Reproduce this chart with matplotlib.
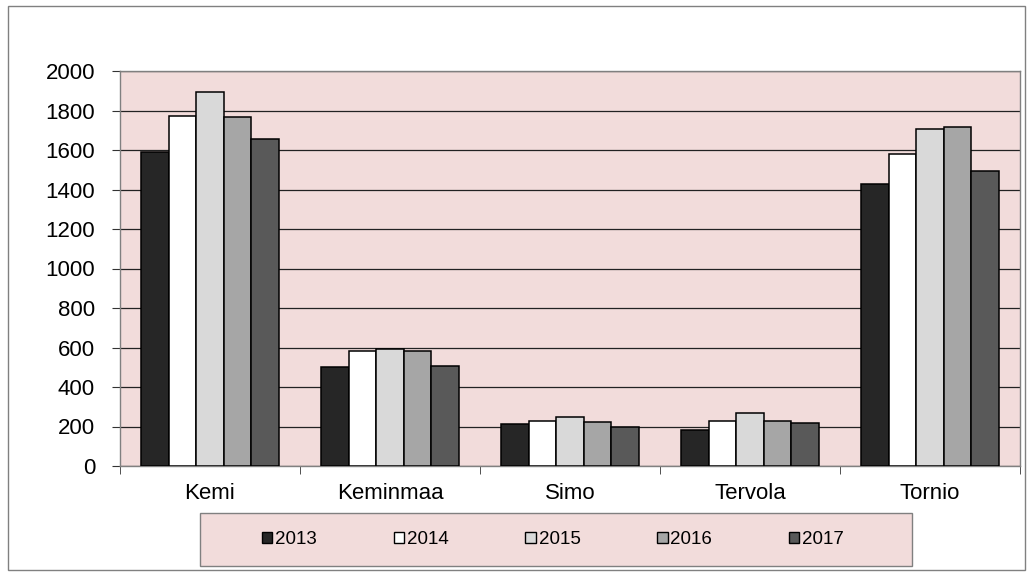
import numpy as np
import matplotlib
matplotlib.use('Agg')
import matplotlib.pyplot as plt
from matplotlib.patches import Rectangle, Patch

plt.rcParams['font.family'] = ['Liberation Sans', 'DejaVu Sans']

# data
municipalities = ['Kemi', 'Keminmaa', 'Simo', 'Tervola', 'Tornio']
years = ['2013', '2014', '2015', '2016', '2017']
v2013 = [1590, 500, 214, 182, 1428]
v2014 = [1774, 584, 229, 228, 1580]
v2015 = [1895, 591, 246, 270, 1705]
v2016 = [1767, 581, 221, 228, 1718]
v2017 = [1654, 505, 199, 216, 1492]
series = [v2013, v2014, v2015, v2016, v2017]
colors = ['#262626', '#ffffff', '#d9d9d9', '#a6a6a6', '#595959']

W, H = 1033, 576
fig = plt.figure(figsize=(W / 100, H / 100), dpi=100)

# outer chart frame
fig.patches.append(Rectangle((8 / W, 6 / H), 1017 / W, 564 / H, transform=fig.transFigure,
                             facecolor='none', edgecolor='#808080', linewidth=1.0, zorder=0))

ax = fig.add_axes([120 / W, (H - 466) / H, 900 / W, 395 / H])
ax.set_facecolor('#f2dcdb')

x = np.arange(len(municipalities))
bw = 0.153
for i, (vals, c) in enumerate(zip(series, colors)):
    ax.bar(x + (i - 2) * bw, vals, width=bw, color=c, edgecolor='black',
           linewidth=1.1, label=years[i], zorder=3)

ax.set_xlim(-0.5, len(municipalities) - 0.5)
ax.set_ylim(0, 2000)
ax.set_yticks(np.arange(0, 2001, 200))
ax.yaxis.grid(True, color='#222222', linewidth=0.9, zorder=1)
ax.set_axisbelow(True)

ax.set_xticks(x)
ax.set_xticklabels(municipalities, fontsize=16)
ax.set_xticks(np.arange(-0.5, len(municipalities)), minor=True)
ax.tick_params(axis='x', which='major', length=0, pad=12)
ax.tick_params(axis='x', which='minor', length=6, color='#333333', direction='out')
ax.tick_params(axis='y', labelsize=16, length=6, color='#333333', pad=12)

for s in ax.spines.values():
    s.set_color('#808080')
    s.set_linewidth(1.0)

# legend box
fig.patches.append(Rectangle((200 / W, (H - 566) / H), 712 / W, 53 / H, transform=fig.transFigure,
                             facecolor='#f2dcdb', edgecolor='#808080', linewidth=1.0, zorder=1))
handles = [Patch(facecolor=c, edgecolor='black', linewidth=1.0) for c in colors]
leg = fig.legend(handles, years, loc='center', bbox_to_anchor=(553 / W, (H - 539.5) / H),
                 ncol=5, frameon=False, fontsize=13.5, handlelength=0.55, handleheight=0.55,
                 handletextpad=0.15, columnspacing=4.1)

fig.savefig('out.png', dpi=100)
